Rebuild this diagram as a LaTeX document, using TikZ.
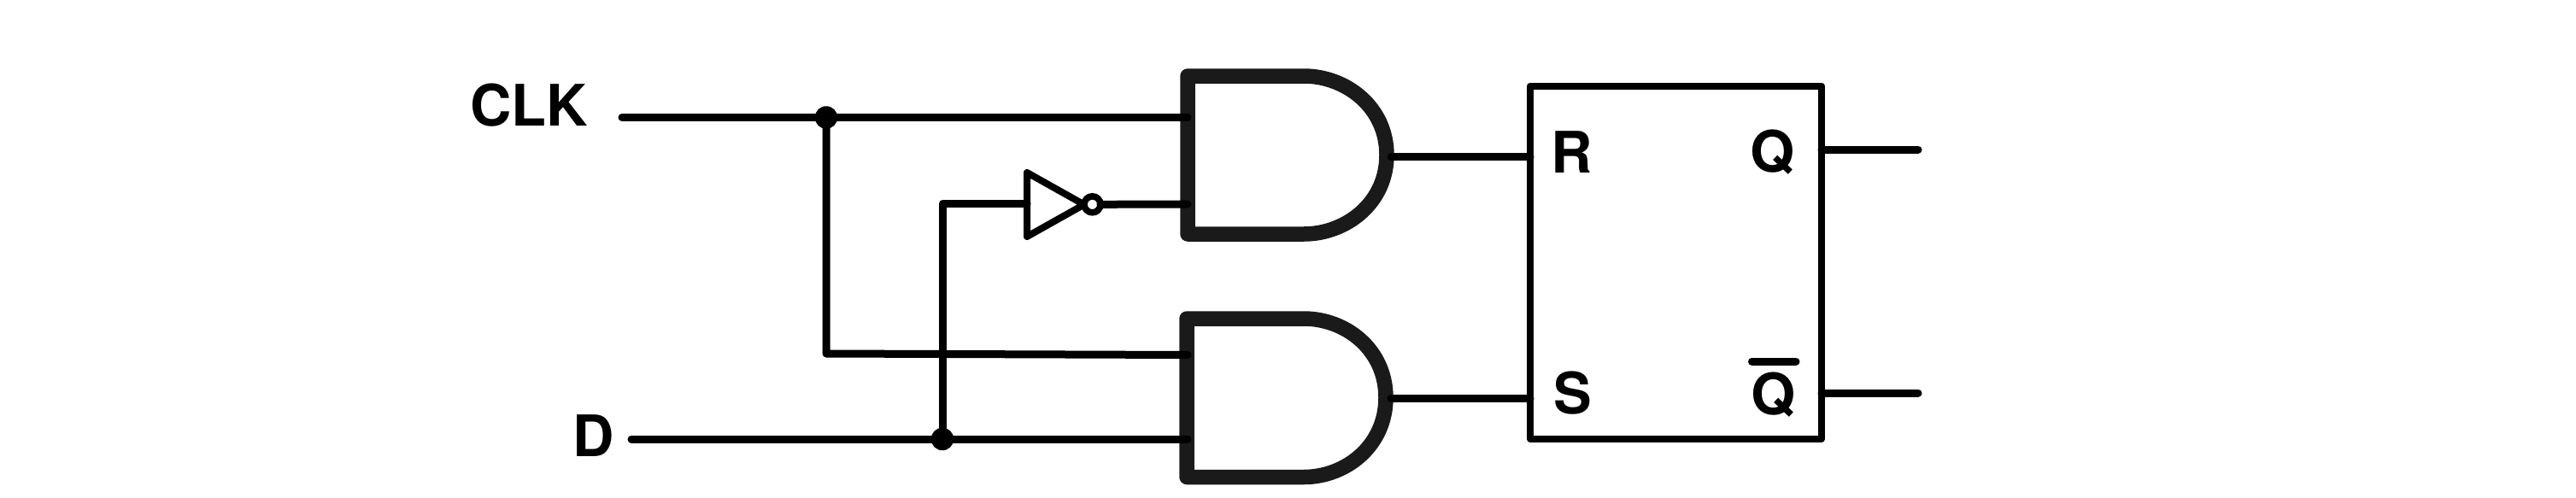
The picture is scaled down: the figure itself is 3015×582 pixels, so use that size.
\documentclass[tikz,border=0pt]{standalone}
\usepackage{fontspec}
\setmainfont{TeX Gyre Heros}
\tikzset{
  wire/.style={line width=9pt,line cap=round,line join=round,black},
  gate/.style={line width=17.5pt,line join=round,draw={rgb,255:red,26;green,26;blue,26}},
  invtri/.style={line width=8pt,line join=round,draw=black},
  bubble/.style={circle,draw=black,fill=white,line width=7.6pt,minimum size=19pt,inner sep=0pt,outer sep=0pt},
  junction/.style={circle,fill=black,minimum size=26.5pt,inner sep=0pt,outer sep=0pt},
  ffbox/.style={rectangle,draw=black,line width=8pt,line join=round,minimum width=341pt,minimum height=413.5pt,inner sep=0pt,outer sep=0pt},
  lab/.style={anchor=base west,inner sep=0pt,outer sep=0pt,font=\fontsize{67}{67}\selectfont\bfseries},
}
\begin{document}
\begin{tikzpicture}[x=1pt,y=-1pt]
\useasboundingbox[fill=white] (0,0) rectangle (3015,582);
% gates
\draw[gate] (1390,89) -- (1526,89) .. controls (1575,89) and (1623,125) .. (1623,181.5)
  .. controls (1623,238) and (1575,274) .. (1526,274) -- (1390,274) -- cycle;
\draw[gate] (1389,373) -- (1526,373) .. controls (1575,373) and (1622,409) .. (1622,465.5)
  .. controls (1622,522) and (1575,558.5) .. (1526,558.5) -- (1389,558.5) -- cycle;
% coordinates
\coordinate (clkin) at (728,137.5);
\coordinate (a1) at (1390,137.5);
\coordinate (a2) at (1390,239);
\coordinate (b1) at (1390,415.5);
\coordinate (b2) at (1390,514);
\coordinate (din) at (739,514);
\coordinate (bend1) at (967,414);
\coordinate (bend2) at (1103,238);
\coordinate (invin) at (1202,238);
\coordinate (g1out) at (1628,183.5);
\coordinate (g2out) at (1628,466.5);
\coordinate (qend) at (2245,175);
\coordinate (qbend) at (2245,460);
\coordinate (barl) at (2050.5,423);
\coordinate (barr) at (2102,423);
\node[junction] (j1) at (967,137.5) {};
\node[junction] (j2) at (1103,514) {};
\node[ffbox] (ff) at (1961.5,307.25) {};
% wires
\draw[wire] (clkin) -- (a1);
\draw[wire] (j1.center) -- (bend1) -- (b1);
\draw[wire] (din) -- (b2);
\draw[wire] (j2.center) -- (bend2) -- (invin);
\draw[wire] (g1out) -- (g1out -| ff.west);
\draw[wire] (g2out) -- (g2out -| ff.west);
\draw[wire] (qend -| ff.east) -- (qend);
\draw[wire] (qbend -| ff.east) -- (qbend);
% inverter
\draw[invtri] (1202,202) -- (1268.8,239.5) -- (1202,277) -- cycle;
\node[bubble] (inv) at (1278.5,239.3) {};
\draw[wire] (inv.east) -- (a2);
% labels
\node[lab] (clk) at (550,147) {CLK};
\node[lab] (d) at (670,534) {D};
\node[lab] (r) at (1815,202) {R};
\node[lab] (s) at (1818,484) {S};
\node[lab] (q) at (2048,201) {Q};
\node[lab] (qb) at (2049,485) {Q};
\draw[wire] (barl) -- (barr);
\end{tikzpicture}
\end{document}
